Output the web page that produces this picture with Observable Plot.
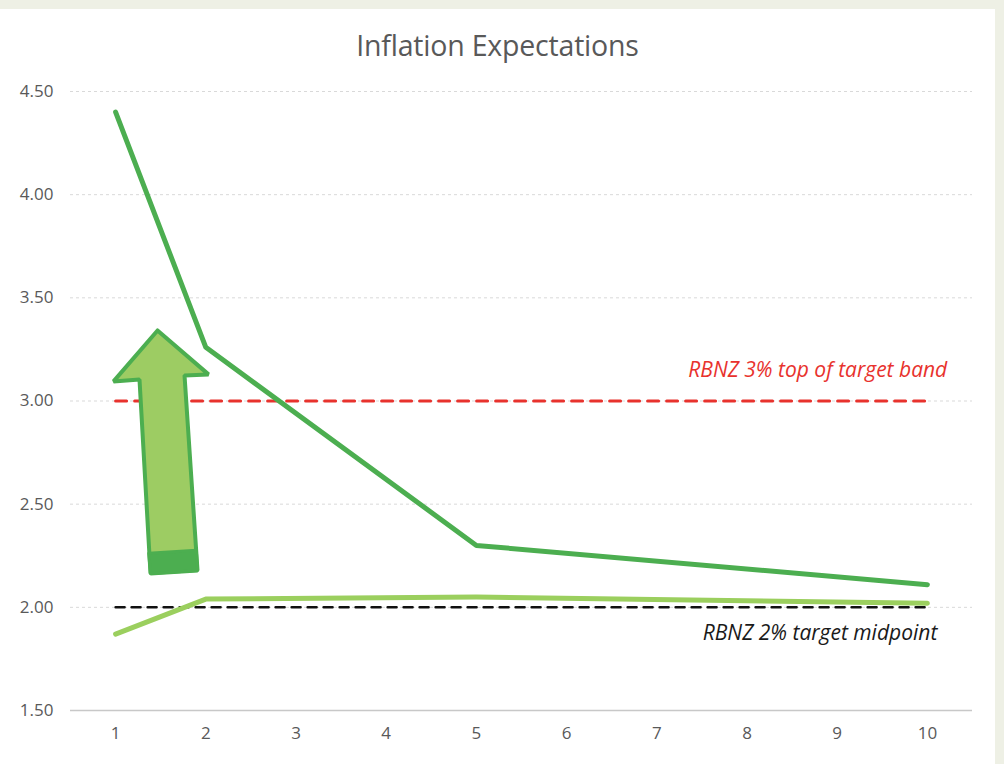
<!DOCTYPE html>
<html>
<head>
<meta charset="utf-8">
<script src="https://cdn.jsdelivr.net/npm/d3@7"></script>
<script src="https://cdn.jsdelivr.net/npm/@observablehq/plot@0.6"></script>
<style>
  html, body { margin: 0; padding: 0; background: #eef0e5; width: 1004px; height: 764px; overflow: hidden; }
  #panel { position: absolute; left: 0; top: 9px; width: 995px; height: 755px; background: #ffffff; }
  #title { position: absolute; left: 0; top: 18px; width: 995px; text-align: center; line-height: 36px;
           font-family: "Open Sans", sans-serif; font-size: 28.5px; color: #595959; letter-spacing: -0.2px; }
  #chart { position: absolute; left: 0; top: 61px; }
</style>
</head>
<body>
<div id="panel">
  <div id="title">Inflation Expectations</div>
  <div id="chart"></div>
</div>
<script>
// Horizons (years ahead) and expectation series
const horizons = [1, 2, 5, 10];
const shortRunSeries = [4.40, 3.26, 2.30, 2.11];   // dark green
const longRunSeries = [1.87, 2.04, 2.05, 2.02];    // light green

// Reference lines
const refX = [1, 10];
const topBand = 3.00;
const midpoint = 2.00;

// Axis ticks
const xTicks = [1, 2, 3, 4, 5, 6, 7, 8, 9, 10];
const yTicks = [1.5, 2.0, 2.5, 3.0, 3.5, 4.0, 4.5];

// Annotations
const annLabels = ["RBNZ 3% top of target band", "RBNZ 2% target midpoint"];
const annX = [10.22, 10.11];
const annY = [3.15, 1.875];
const annColors = ["#e8322d", "#1a1a1a"];

// Arrow annotation outline (data coordinates)
const arrowX = [1.465, 2.030, 1.764, 1.908, 1.387, 1.265, 0.977, 1.465];
const arrowY = [3.342, 3.129, 3.124, 2.179, 2.164, 3.104, 3.095, 3.342];
const arrowBaseX = [1.367, 1.895, 1.908, 1.387, 1.367];
const arrowBaseY = [2.262, 2.277, 2.179, 2.164, 2.262];

const dark = horizons.map((h, i) => ({x: h, y: shortRunSeries[i]}));
const light = horizons.map((h, i) => ({x: h, y: longRunSeries[i]}));
const ref3 = refX.map(x => ({x, y: topBand}));
const ref2 = refX.map(x => ({x, y: midpoint}));
const arrow = arrowX.map((x, i) => ({x, y: arrowY[i]}));
const arrowBase = arrowBaseX.map((x, i) => ({x, y: arrowBaseY[i]}));
const anns = annLabels.map((t, i) => ({t, x: annX[i], y: annY[i], c: annColors[i]}));

const font = "'Open Sans', sans-serif";

const chart = Plot.plot({
  width: 995,
  height: 694,
  marginLeft: 70,
  marginRight: 23,
  marginTop: 21,
  marginBottom: 54,
  style: {fontFamily: font, fontSize: "15px", color: "#595959", background: "transparent"},
  x: {domain: [0.5, 10.5], ticks: xTicks, tickFormat: d => String(d), tickSize: 0, tickPadding: 18, label: null},
  y: {domain: [1.5, 4.5], ticks: yTicks, tickFormat: d => d.toFixed(2), tickSize: 0, tickPadding: 16, label: null},
  marks: [
    Plot.ruleY(yTicks.filter(d => d > 1.5), {y: d => d, stroke: "#d9d9d9", strokeWidth: 1, strokeDasharray: "3,3"}),
    Plot.ruleY([1.5], {stroke: "#c8c8c8", strokeWidth: 1.5}),
    Plot.axisX({ticks: xTicks, tickFormat: d => String(d), tickSize: 0, tickPadding: 16, fill: "#595959", fontSize: 17}),
    Plot.axisY({ticks: yTicks, tickFormat: d => d.toFixed(2), tickSize: 0, tickPadding: 17, fill: "#595959", fontSize: 17}),
    Plot.line(ref3, {x: "x", y: "y", stroke: "#e8322d", strokeWidth: 3, strokeDasharray: "11,8"}),
    Plot.line(ref2, {x: "x", y: "y", stroke: "#111111", strokeWidth: 2.5, strokeDasharray: "9,7"}),
    Plot.line(dark, {x: "x", y: "y", stroke: "#4cae50", strokeWidth: 5, strokeLinejoin: "round", strokeLinecap: "round"}),
    Plot.line(light, {x: "x", y: "y", stroke: "#9bcf5e", strokeWidth: 5, strokeLinejoin: "round", strokeLinecap: "round"}),
    Plot.line(arrow, {x: "x", y: "y", fill: "#9dcc63", stroke: "#4cae50", strokeWidth: 4, strokeLinejoin: "miter", curve: "linear"}),
    Plot.line(arrowBase, {x: "x", y: "y", fill: "#4cae50", stroke: "#4cae50", strokeWidth: 3}),
    Plot.text(anns, {x: "x", y: "y", text: "t", fill: "c", textAnchor: "end", fontSize: 21, fontStyle: "italic", fontFamily: font})
  ]
});
document.getElementById("chart").appendChild(chart);
</script>
</body>
</html>
